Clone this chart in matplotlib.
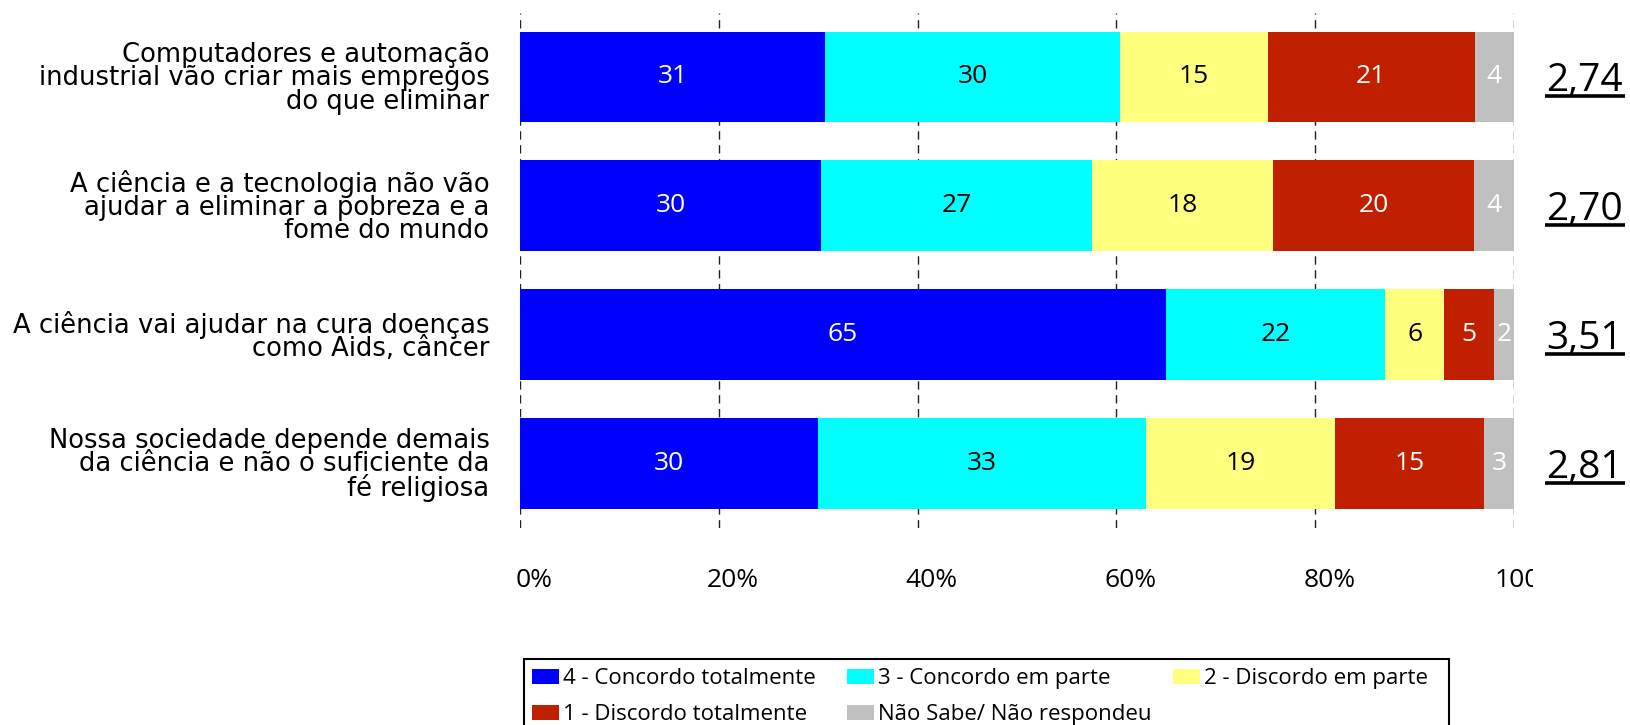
import matplotlib
matplotlib.use('Agg')
import matplotlib.pyplot as plt
import numpy as np
from matplotlib.transforms import ScaledTranslation, Bbox, IdentityTransform, blended_transform_factory
from matplotlib.lines import Line2D
from matplotlib.patches import Rectangle

# ---------------- data ----------------
categories = [
    "Computadores e automação\nindustrial vão criar mais empregos\ndo que eliminar",
    "A ciência e a tecnologia não vão\najudar a eliminar a pobreza e a\nfome do mundo",
    "A ciência vai ajudar na cura doenças\ncomo Aids, câncer",
    "Nossa sociedade depende demais\nda ciência e não o suficiente da\nfé religiosa",
]
series_names = [
    "4 - Concordo totalmente",
    "3 - Concordo em parte",
    "2 - Discordo em parte",
    "1 - Discordo totalmente",
    "Não Sabe/ Não respondeu",
]
concordo_totalmente = [31, 30, 65, 30]
concordo_em_parte = [30, 27, 22, 33]
discordo_em_parte = [15, 18, 6, 19]
discordo_totalmente = [21, 20, 5, 15]
nao_sabe = [4, 4, 2, 3]
medias = ["2,74", "2,70", "3,51", "2,81"]
x_ticks = [0, 20, 40, 60, 80, 100]
x_tick_labels = ["0%", "20%", "40%", "60%", "80%", "100%"]

# ---------------- style ----------------
colors = ["#0000FF", "#00FFFF", "#FFFF80", "#C02000", "#C0C0C0"]
text_colors = ["white", "black", "black", "white", "white"]
plt.rcParams['font.family'] = ['Open Sans', 'DejaVu Sans']

W, H = 1630, 725
fig = plt.figure(figsize=(W / 100, H / 100), dpi=100)
ax = fig.add_axes([520 / W, 1 - 528 / H, 994 / W, 515.5 / H])

series = [concordo_totalmente, concordo_em_parte, discordo_em_parte,
          discordo_totalmente, nao_sabe]
vals = np.array(series, dtype=float)
pct = vals / vals.sum(axis=0) * 100
ypos = np.arange(len(categories))
left = np.zeros(len(categories))
handles = []
for i in range(len(series)):
    b = ax.barh(ypos, pct[i], left=left, height=0.705, color=colors[i],
                label=series_names[i], zorder=2, linewidth=0)
    handles.append(b)
    for j in range(len(categories)):
        ax.text(left[j] + pct[i][j] / 2, ypos[j], str(series[i][j]),
                ha='center', va='center', color=text_colors[i], fontsize=19,
                zorder=3, clip_on=True)
    left += pct[i]

ax.set_xlim(0, 100)
ax.set_ylim(len(categories) - 0.5, -0.5)
for s in ax.spines.values():
    s.set_visible(False)
ax.set_xticks(x_ticks)
ax.set_xticklabels(x_tick_labels, fontsize=19)
ax.xaxis.grid(True, color='#202020', linestyle=(0, (6, 4)), linewidth=1)
ax.yaxis.grid(False)
ax.set_axisbelow(True)
ax.tick_params(axis='x', length=0, pad=28.5)
ax.set_yticks(ypos)
ax.set_yticklabels(categories, fontsize=18.6, linespacing=0.855,
                   family=['DejaVu Sans'])
ax.tick_params(axis='y', length=0, pad=22)

# mean values, underlined
mean_texts = []
tr = blended_transform_factory(ax.transAxes, ax.transData)
for j, m in enumerate(medias):
    t = ax.text((1546 - 520) / 994, ypos[j] + 0.11, m, transform=tr,
                ha='left', va='baseline', fontsize=28, color='black', clip_on=False)
    mean_texts.append(t)

# legend: three columns placed like the original
legend_columns = [([0, 3], 532), ([1, 4], 847), ([2], 1173)]
for idx, xpix in legend_columns:
    lg = fig.legend([handles[k] for k in idx], [series_names[k] for k in idx],
                    loc='upper left', bbox_to_anchor=(xpix / W, 1 - 668 / H), ncol=1,
                    fontsize=16, frameon=False, handlelength=1.2, handleheight=0.67,
                    handletextpad=0.2, borderpad=0, labelspacing=0.68,
                    borderaxespad=0)
fig.add_artist(Rectangle((524 / W, -0.05), (1449 - 524) / W, (H - 659) / H + 0.05,
                         transform=fig.transFigure, fill=False, edgecolor='black',
                         linewidth=1.5))

fig.canvas.draw()
# shift x tick labels and clip the last one like the original
for tick in ax.xaxis.get_major_ticks():
    lbl = tick.label1
    lbl.set_transform(lbl.get_transform() + ScaledTranslation(14 / 100, 0, fig.dpi_scale_trans))
    lbl.set_clip_box(Bbox.from_extents(0, 0, 1533, H))
    lbl.set_clip_on(True)

renderer = fig.canvas.get_renderer()
ul_tr = blended_transform_factory(IdentityTransform(), ax.transData)
for j, t in enumerate(mean_texts):
    bb = t.get_window_extent(renderer)
    ln = Line2D([bb.x0 - 1, bb.x1 + 2], [ypos[j] + 0.15, ypos[j] + 0.15],
                transform=ul_tr, color='black', linewidth=2.6, solid_capstyle='butt')
    ln.set_clip_on(False)
    ax.add_line(ln)

fig.savefig('out.png', dpi=100)
